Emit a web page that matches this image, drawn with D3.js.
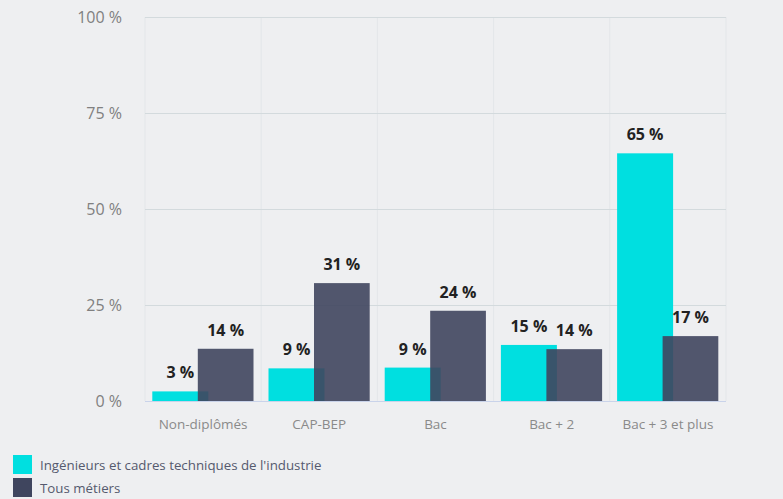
<!DOCTYPE html>
<html lang="fr">
<head>
<meta charset="UTF-8">
<title>Chart</title>
<style>
  body { margin: 0; background: #eeeff1; }
  svg { display: block; font-family: "Open Sans", sans-serif; }
</style>
</head>
<body>
<svg id="svg" width="783" height="499"></svg>
<script src="https://cdn.jsdelivr.net/npm/d3@7"></script>
<script>
  const categories = ['Non-diplômés', 'CAP-BEP', 'Bac', 'Bac + 2', 'Bac + 3 et plus']
  const ingenieurs = [2.5, 8.5, 8.7, 14.6, 64.5]
  const tous = [13.6, 30.7, 23.5, 13.5, 16.9]
  const seriesNames = ["Ingénieurs et cadres techniques de l'industrie", 'Tous métiers']
  const yTicks = [0, 25, 50, 75, 100]

  const plotLeft = 145, plotRight = 726, plotTop = 17, plotBottom = 401
  const svg = d3.select('#svg')

  const x = d3.scaleBand().domain(categories).range([plotLeft, plotRight])
  const y = d3.scaleLinear().domain([0, 100]).range([plotBottom, plotTop])

  // vertical grid at band edges
  const edges = categories.map(c => x(c)).concat([plotRight])
  svg.append('g').selectAll('line')
    .data(edges)
    .join('line')
    .attr('x1', d => d).attr('x2', d => d)
    .attr('y1', plotTop).attr('y2', plotBottom)
    .attr('stroke', '#e3e6e9').attr('stroke-width', 1)

  // horizontal grid
  svg.append('g').selectAll('line')
    .data(yTicks)
    .join('line')
    .attr('x1', plotLeft).attr('x2', plotRight)
    .attr('y1', d => y(d) + 0.5).attr('y2', d => y(d) + 0.5)
    .attr('stroke', d => d === 0 ? '#c9d3ea' : '#d3dadd')
    .attr('stroke-width', 1.2)

  svg.append('g').selectAll('text')
    .data(yTicks)
    .join('text')
    .attr('x', 122).attr('y', d => y(d))
    .attr('dy', '0.35em')
    .attr('text-anchor', 'end')
    .attr('fill', '#808080')
    .attr('font-size', 16)
    .text(d => d + ' %')

  // x labels
  svg.append('g').selectAll('text')
    .data(categories)
    .join('text')
    .attr('x', d => x(d) + x.bandwidth() / 2)
    .attr('y', 424).attr('dy', '0.35em')
    .attr('text-anchor', 'middle')
    .attr('fill', '#8a8a8a')
    .attr('font-size', 13.5)
    .text(d => d)

  const series = [
    { values: ingenieurs, color: '#00dfe0', opacity: 1, off: 7.3, w: 56 },
    { values: tous, color: '#3f455e', opacity: 0.9, off: 52.8, w: 55.7 }
  ]

  series.forEach(s => {
    const g = svg.append('g')
    g.selectAll('rect')
      .data(categories)
      .join('rect')
      .attr('x', d => x(d) + s.off)
      .attr('width', s.w)
      .attr('y', (d, i) => y(s.values[i]))
      .attr('height', (d, i) => plotBottom - y(s.values[i]))
      .attr('fill', s.color)
      .attr('fill-opacity', s.opacity)
  })

  series.forEach(s => {
    svg.append('g').selectAll('text')
      .data(categories)
      .join('text')
      .attr('x', d => x(d) + s.off + s.w / 2)
      .attr('y', (d, i) => y(s.values[i]) - 13)
      .attr('text-anchor', 'middle')
      .attr('font-size', 16)
      .attr('font-weight', 'bold')
      .attr('fill', '#222')
      .text((d, i) => Math.round(s.values[i]) + ' %')
  })

  // legend
  const legend = svg.append('g')
  seriesNames.forEach((name, i) => {
    legend.append('rect')
      .attr('x', 13).attr('y', 455 + i * 23)
      .attr('width', 19).attr('height', 19)
      .attr('fill', series[i].color)
    legend.append('text')
      .attr('x', 40).attr('y', 465 + i * 23)
      .attr('dy', '0.35em')
      .attr('font-size', 13.3)
      .attr('fill', '#555a6e')
      .text(name)
  })
</script>
</body>
</html>
